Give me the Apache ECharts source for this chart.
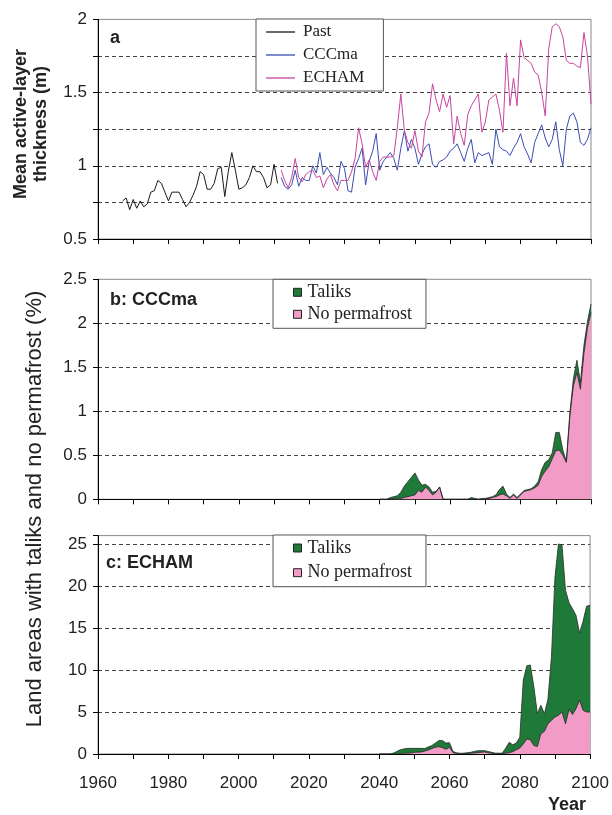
<!DOCTYPE html>
<html><head><meta charset="utf-8">
<script src="https://cdn.jsdelivr.net/npm/echarts@6/dist/echarts.min.js"></script>
<style>html,body{margin:0;padding:0;background:#fff}#c{width:612px;height:815px}</style>
</head><body><div id="c"></div><script>
// ---- data ----
const pastStart = 1967;
const pastThickness = [0.76,0.78,0.70,0.77,0.71,0.76,0.72,0.74,0.82,0.83,
  0.90,0.88,0.82,0.76,0.82,0.82,0.82,0.77,0.72,0.75,
  0.80,0.86,0.96,0.94,0.84,0.84,0.88,0.98,0.99,0.79,
  0.96,1.09,0.97,0.84,0.85,0.87,0.92,1.00,0.96,0.96,
  0.92,0.85,0.87,1.01,0.88];
const projStart = 2012;
const cccmaThickness = [0.92,0.86,0.84,0.87,0.97,0.86,0.92,0.90,0.90,1.00,
  0.95,1.09,0.94,0.99,0.95,0.92,0.87,1.03,0.98,0.83,
  0.82,0.99,1.05,1.12,0.87,1.03,1.10,1.22,0.97,1.03,
  1.06,1.09,1.05,0.97,1.12,1.24,1.10,1.18,1.12,1.01,
  1.08,1.13,1.15,1.01,0.99,1.03,1.04,1.06,1.10,1.12,
  1.15,1.09,1.03,1.12,1.18,1.02,1.09,1.07,1.08,1.09,
  1.01,1.25,1.13,1.11,1.10,1.07,1.12,1.16,1.22,1.13,
  1.08,1.02,1.16,1.22,1.28,1.19,1.13,1.18,1.30,1.11,
  1.00,1.25,1.34,1.36,1.30,1.16,1.14,1.18,1.26];
const echamThickness = [0.97,0.90,0.85,0.92,1.05,0.92,0.89,0.94,0.96,0.97,
  0.92,0.93,0.85,0.91,0.94,0.87,0.83,0.90,0.90,0.90,
  0.96,1.05,1.26,1.15,0.99,1.04,0.96,0.90,1.03,1.06,
  1.06,1.06,1.07,1.26,1.49,1.24,1.16,1.12,1.24,1.10,
  1.06,1.30,1.36,1.56,1.45,1.37,1.49,1.40,1.48,1.15,
  1.34,1.22,1.14,1.35,1.41,1.45,1.49,1.23,1.30,1.45,
  1.47,1.49,1.38,1.23,1.77,1.41,1.60,1.41,1.86,1.74,
  1.72,1.70,1.64,1.62,1.50,1.34,1.80,1.95,1.97,1.95,
  1.88,1.72,1.70,1.70,1.68,1.67,1.91,1.75,1.42];
const areaStart = 2040;
const cccmaNoPermafrost = [0,0,0,0,0,0.01,0.01,0.02,0.03,0.04,
  0.05,0.10,0.08,0.14,0.10,0.05,0.08,0.14,0,0,
  0,0,0,0,0,0,0,0,0,0,
  0.005,0.01,0.02,0.03,0.05,0.06,0.04,0.01,0.05,0.01,
  0.05,0.09,0.10,0.11,0.13,0.16,0.26,0.32,0.37,0.46,
  0.55,0.56,0.50,0.42,0.95,1.29,1.44,1.25,1.66,1.95,
  2.12];
const cccmaTaliks = [0,0,0,0.02,0.03,0.03,0.07,0.13,0.17,0.21,
  0.25,0.12,0.08,0.03,0.04,0.03,0.01,0,0,0,
  0,0,0,0,0,0,0.02,0.01,0,0.01,
  0.005,0.01,0.01,0.02,0.06,0.09,0.02,0.01,0.01,0.01,
  0.01,0.01,0.01,0.01,0.02,0.04,0.08,0.10,0.08,0.07,
  0.21,0.20,0.06,0.01,0.03,0.08,0.14,0.08,0.09,0.07,
  0.10];
const echamNoPermafrost = [0,0,0,0,0,0,0.05,0.08,0.10,0.12,
  0.20,0.22,0.24,0.35,0.48,0.65,0.80,0.87,0.75,0.56,
  0.80,0.16,0.05,0.02,0.03,0.05,0.08,0.12,0.16,0.20,
  0.24,0.15,0.08,0.05,0.05,0.05,0.10,0.15,0.28,0.50,
  0.70,1.2,1.8,1.7,1.0,0.9,2.4,2.7,3.6,4.0,
  4.4,4.6,5.0,3.6,5.3,4.7,5.4,6.4,5.2,5.0,
  5.0];
const echamTaliks = [0,0,0,0,0.10,0.30,0.45,0.52,0.57,0.55,
  0.47,0.45,0.43,0.30,0.37,0.35,0.50,0.73,0.85,0.74,
  0.55,0.14,0.10,0.06,0.07,0.10,0.12,0.18,0.24,0.20,
  0.16,0.15,0.12,0.05,0.05,0.05,0.60,1.25,0.82,0.80,
  1.3,7.6,8.7,8.9,7.0,3.9,3.4,2.1,2.9,7.5,
  16.6,20.4,19.9,15.9,12.7,12.6,11.1,8.0,10.6,12.6,
  12.7];
const yearMin = 1960, yearMax = 2100;

// ---- helpers ----
const pairs = (start, arr) => arr.map((v, i) => [start + i, v]);
// stacked top of the taliks band = no-permafrost + taliks
const stackTop = (lower, upper) => lower.map((v, i) => v + upper[i]);
const SANS = 'Liberation Sans, Arial, sans-serif';
const SERIF = 'Liberation Serif, Times New Roman, serif';
const C_PAST = '#1a1a1a', C_CCC = '#3b4db3', C_ECH = '#c8449f';
const C_TAL = '#1f7a3a', C_NOP = '#f29bc6';

function xAx(gi, labels) {
  return {
    type: 'value', gridIndex: gi, min: yearMin, max: yearMax, interval: 10,
    axisLine: { show: true, onZero: false, lineStyle: { color: '#000', width: 1 } },
    axisTick: { show: true, length: 5, lineStyle: { color: '#000' } },
    splitLine: { show: false },
    axisLabel: {
      show: labels, margin: 21, color: '#222', fontFamily: SANS, fontSize: 17,
      formatter: v => (v % 20 === 0 ? String(v) : '')
    }
  };
}
function yAx(gi, min, max, interval, labelStep) {
  return {
    type: 'value', gridIndex: gi, min, max, interval,
    axisLine: { show: true, lineStyle: { color: '#000', width: 1 } },
    axisTick: { show: true, length: 5, lineStyle: { color: '#000' } },
    axisLabel: {
      margin: 11, color: '#222', fontFamily: SANS, fontSize: 17,
      formatter: v => {
        const k = v / labelStep;
        return Math.abs(k - Math.round(k)) < 1e-6 ? String(+v.toFixed(2)) : '';
      }
    },
    splitLine: { show: true, showMinLine: false, showMaxLine: false,
      lineStyle: { color: '#444', width: 1, type: [4, 3] } }
  };
}
const gridBase = { left: 98, width: 493, show: true, borderColor: '#8a8a8a', borderWidth: 1, backgroundColor: 'transparent' };

function areaSeries(name, gi, start, arr, color) {
  return {
    name, type: 'line', xAxisIndex: gi, yAxisIndex: gi,
    data: pairs(start, arr), symbol: 'none', showSymbol: false,
    lineStyle: { color: '#2a2a2a', width: 0.8 },
    itemStyle: { color },
    areaStyle: { color, opacity: 1 }
  };
}
function lineSeries(name, start, arr, color) {
  return {
    name, type: 'line', xAxisIndex: 0, yAxisIndex: 0,
    data: pairs(start, arr), symbol: 'none', showSymbol: false,
    lineStyle: { color, width: 1 }, itemStyle: { color }
  };
}
function areaLegend(top, gap) {
  return {
    data: ['Taliks', 'No permafrost'], orient: 'vertical', left: 273, top,
    padding: [4, 14, 5, 20], itemWidth: 8, itemHeight: 8, itemGap: gap, icon: 'rect',
    itemStyle: { borderColor: '#222', borderWidth: 1 },
    backgroundColor: '#fff', borderColor: '#555', borderWidth: 1, selectedMode: false,
    textStyle: { fontFamily: SERIF, fontSize: 18, lineHeight: 18, color: '#222', padding: [0, 0, 0, 1] }
  };
}

const option = {
  animation: false,
  backgroundColor: '#fff',
  grid: [
    Object.assign({ top: 19.4, height: 219.6 }, gridBase),
    Object.assign({ top: 279.3, height: 220 }, gridBase),
    Object.assign({ top: 535.6, height: 218.4 }, gridBase)
  ],
  xAxis: [xAx(0, false), xAx(1, false), xAx(2, true)],
  yAxis: [yAx(0, 0.5, 2, 0.25, 0.5), yAx(1, 0, 2.5, 0.5, 0.5), yAx(2, 0, 26, 5, 5)],
  legend: [
    {
      data: ['Past', 'CCCma', 'ECHAM'], orient: 'vertical', left: 256, top: 19,
      padding: [4.5, 19, 4.5, 10], itemWidth: 29, itemHeight: 1.3, itemGap: 6, icon: 'rect',
      backgroundColor: '#fff', borderColor: '#555', borderWidth: 1, selectedMode: false,
      textStyle: { fontFamily: SERIF, fontSize: 17, lineHeight: 17, color: '#222', padding: [0, 0, 0, 3] }
    },
    areaLegend(279.3, 4),
    areaLegend(535, 6.7)
  ],
  series: [
    lineSeries('Past', pastStart, pastThickness, C_PAST),
    lineSeries('CCCma', projStart, cccmaThickness, C_CCC),
    lineSeries('ECHAM', projStart, echamThickness, C_ECH),
    areaSeries('Taliks', 1, areaStart, stackTop(cccmaNoPermafrost, cccmaTaliks), C_TAL),
    areaSeries('No permafrost', 1, areaStart, cccmaNoPermafrost, C_NOP),
    areaSeries('Taliks', 2, areaStart, stackTop(echamNoPermafrost, echamTaliks), C_TAL),
    areaSeries('No permafrost', 2, areaStart, echamNoPermafrost, C_NOP)
  ],
  graphic: [
    { type: 'text', left: 110, top: 29, style: { text: 'a', font: 'bold 18px ' + SANS, fill: '#222' } },
    { type: 'text', left: 110, top: 291, style: { text: 'b: CCCma', font: 'bold 18px ' + SANS, fill: '#222' } },
    { type: 'text', left: 106, top: 554, style: { text: 'c: ECHAM', font: 'bold 18px ' + SANS, fill: '#222' } },
    { type: 'text', x: 567, y: 805, style: { text: 'Year', font: 'bold 18px ' + SANS, fill: '#222', textAlign: 'center', textVerticalAlign: 'middle' } },
    { type: 'text', x: 21, y: 124, rotation: Math.PI / 2, style: { text: 'Mean active-layer', font: 'bold 18px ' + SANS, fill: '#222', textAlign: 'center', textVerticalAlign: 'middle' } },
    { type: 'text', x: 41, y: 124, rotation: Math.PI / 2, style: { text: 'thickness (m)', font: 'bold 18px ' + SANS, fill: '#222', textAlign: 'center', textVerticalAlign: 'middle' } },
    { type: 'text', x: 35, y: 509, rotation: Math.PI / 2, style: { text: 'Land areas with taliks and no permafrost (%)', font: '22px ' + SANS, fill: '#222', textAlign: 'center', textVerticalAlign: 'middle' } }
  ]
};
const chart = echarts.init(document.getElementById('c'), null, { renderer: 'canvas' });
chart.setOption(option);
</script></body></html>
